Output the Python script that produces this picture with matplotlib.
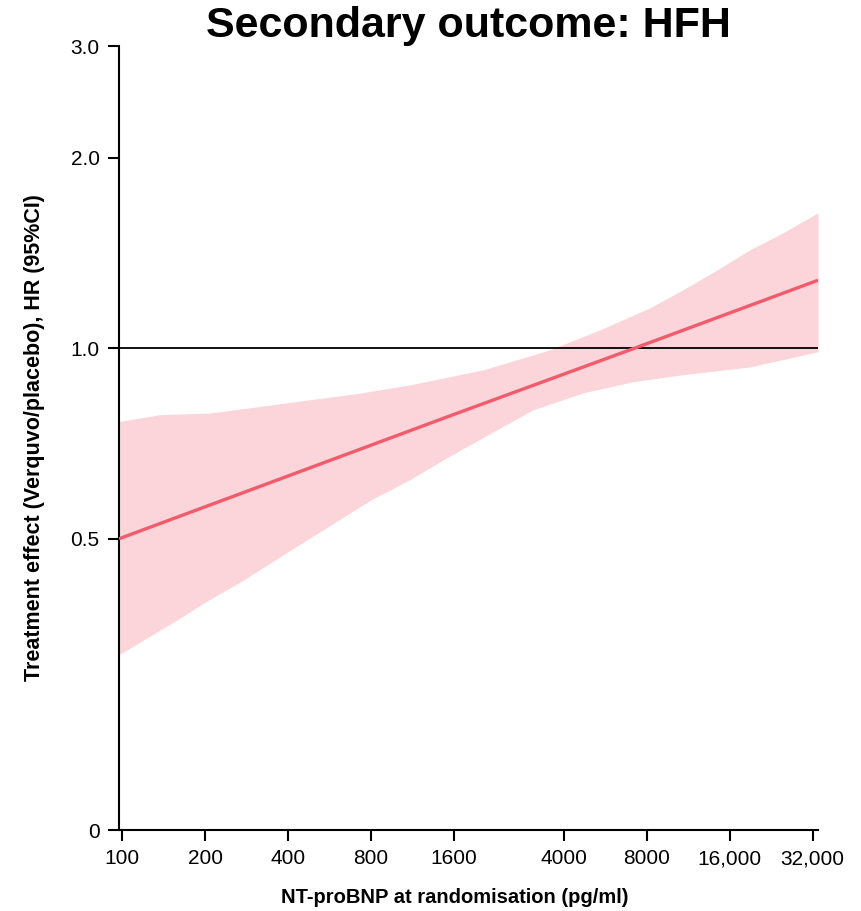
import matplotlib.pyplot as plt
import numpy as np

plt.rcParams['font.family'] = ['Liberation Sans', 'DejaVu Sans']

# NT-proBNP (pg/ml) と HR の読み取り値
line_x = [97.5, 1600, 7240, 33450]
line_hr = [0.50, 0.786, 1.0, 1.28]

upper_x = [97.5, 137, 209, 317, 481, 730, 1108, 2038, 3567, 5417, 8222,
           10830, 14390, 18950, 24970, 33450]
upper_hr = [0.766, 0.785, 0.790, 0.809, 0.829, 0.849, 0.875, 0.924, 0.994,
            1.069, 1.158, 1.236, 1.329, 1.430, 1.521, 1.636]

lower_x = [97.5, 158, 198, 275, 400, 800, 1108, 1460, 2350, 3095, 4700,
           7130, 10830, 18950, 33450]
lower_hr = [0.328, 0.372, 0.396, 0.430, 0.477, 0.576, 0.620, 0.666, 0.748,
            0.799, 0.850, 0.885, 0.908, 0.934, 0.987]

xticks = [100, 200, 400, 800, 1600, 4000, 8000, 16000, 32000]
xticklabels = ['100', '200', '400', '800', '1600', '4000', '8000', '16,000', '32,000']
yticks = [0.1734, 0.5, 1.0, 2.0, 3.0]
yticklabels = ['0', '0.5', '1.0', '2.0', '3.0']

fig = plt.figure(figsize=(8.61, 9.11), dpi=100)
ax = fig.add_axes([119 / 861, 1 - 830 / 911, 699 / 861, 784 / 911])

# 帯は共通のx格子上で補間して塗る
gx = np.array(sorted(set(upper_x) | set(lower_x)))
up = np.exp(np.interp(np.log(gx), np.log(upper_x), np.log(upper_hr)))
lo = np.exp(np.interp(np.log(gx), np.log(lower_x), np.log(lower_hr)))
ax.fill_between(gx, lo, up, color='#fcd5da', lw=0, zorder=1)
ax.axhline(1.0, color='black', lw=1.3, zorder=2)
ax.plot(line_x, line_hr, color='#f45b6a', lw=2.4, zorder=3, solid_capstyle='butt')

ax.set_xscale('log')
ax.set_yscale('log')
ax.set_xlim(97.5, 33450)
ax.set_ylim(0.1734, 3.0)
ax.set_xticks(xticks)
ax.set_xticklabels(xticklabels)
ax.set_yticks(yticks)
ax.set_yticklabels(yticklabels)
ax.minorticks_off()

for s in ['top', 'right']:
    ax.spines[s].set_visible(False)
for s in ['left', 'bottom']:
    ax.spines[s].set_linewidth(1.5)
ax.tick_params(axis='both', width=1.5, length=8, labelsize=15, pad=6)

ax.set_title('Secondary outcome: HFH', fontsize=31, fontweight='bold', pad=1)
ax.set_xlabel('NT-proBNP at randomisation (pg/ml)', fontsize=14.5, fontweight='bold')
ax.set_ylabel('Treatment effect (Verquvo/placebo), HR (95%CI)', fontsize=15.5,
              fontweight='bold')
ax.xaxis.set_label_coords(0.481, -0.074)
ax.yaxis.set_label_coords(-0.106, 0.5)

fig.savefig('out.png', dpi=100)
